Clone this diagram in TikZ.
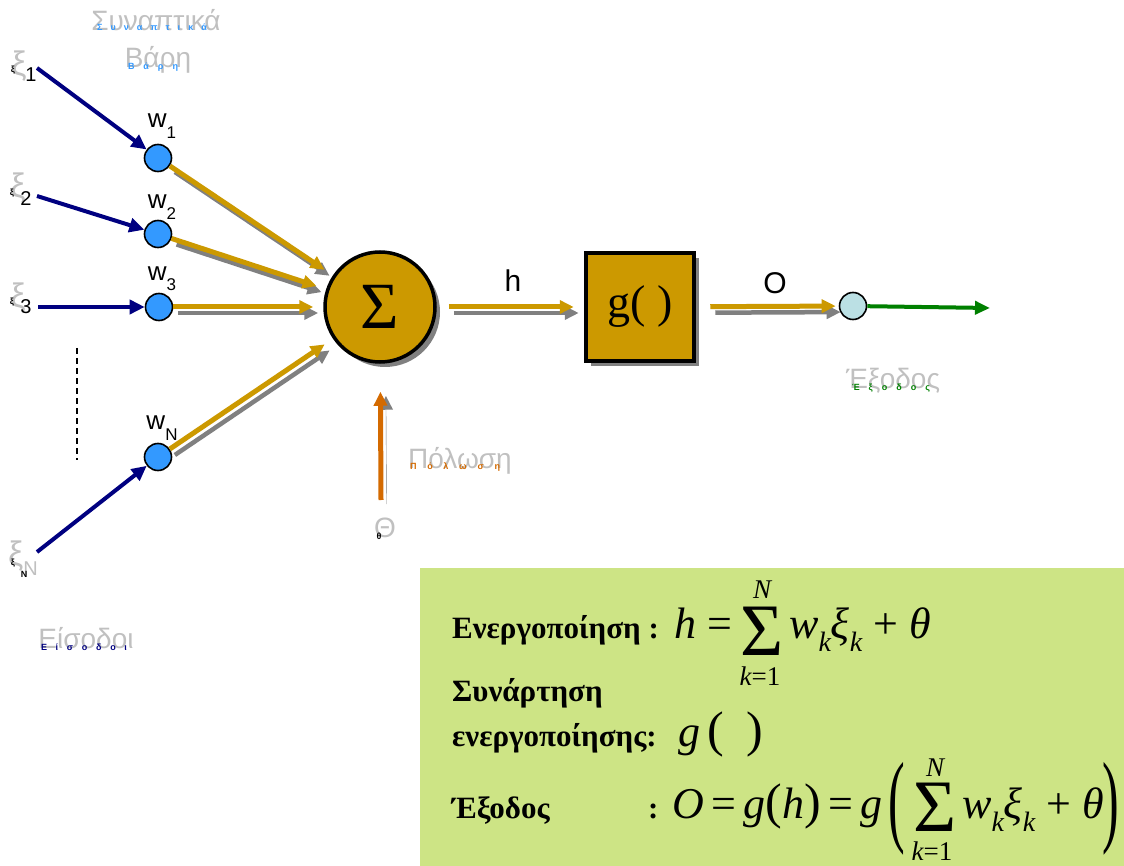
\documentclass[tikz,border=0pt]{standalone}
\usepackage{fontspec}
\setmainfont{Liberation Serif}
\setsansfont{Liberation Sans}
\usetikzlibrary{arrows.meta,shadows}

\definecolor{gold}{RGB}{204,153,0}
\definecolor{navyin}{RGB}{0,0,128}
\definecolor{wblue}{RGB}{51,153,255}
\definecolor{outblue}{RGB}{187,224,228}
\definecolor{outgreen}{RGB}{0,128,0}
\definecolor{biasorange}{RGB}{212,106,0}
\definecolor{ghostgray}{RGB}{192,192,192}
\definecolor{shadowgray}{RGB}{128,128,128}
\definecolor{boxgreen}{RGB}{205,228,133}

\newcommand{\fs}[1]{\fontsize{#1}{#1}\selectfont}
\newcommand{\sub}[1]{\raisebox{-0.3em}{\fs{28}#1}}

\tikzset{
  weight/.style={draw, circle, line width=1.6pt, fill=wblue, minimum size=27pt, inner sep=0pt},
  outnode/.style={draw, circle, line width=1.6pt, fill=outblue, minimum size=27pt, inner sep=0pt},
  sumnode/.style={draw, circle, line width=3.5pt, fill=gold, minimum size=110pt, inner sep=0pt,
    font=\fs{66}, drop shadow={shadow xshift=5pt, shadow yshift=-5pt, fill=shadowgray, opacity=1}},
  gbox/.style={draw, rectangle, line width=4.5pt, fill=gold, minimum size=108pt, inner sep=0pt,
    font=\fs{46}, drop shadow={shadow xshift=5pt, shadow yshift=-5pt, fill=shadowgray, opacity=1}},
  inarr/.style={navyin, line width=4pt, -{Triangle[length=15pt,width=14pt]}},
  goldarr/.style={gold, line width=5pt, -{Triangle[length=14pt,width=13pt]},
    preaction={draw=shadowgray, line width=4.5pt, -{Triangle[length=14pt,width=13pt]}, transform canvas={shift={(5pt,-6pt)}}}},
  biasarr/.style={biasorange, line width=5pt, -{Triangle[length=14pt,width=13pt]},
    preaction={draw=shadowgray, -{Triangle[length=14pt,width=13pt]}, transform canvas={shift={(5.5pt,-4pt)}}}},
  greenarr/.style={outgreen, line width=4pt, -{Triangle[length=15pt,width=13pt]}},
  ghost/.style={text=ghostgray, font=\sffamily\fs{28}, inner sep=0pt},
  ghostxi/.style={text=ghostgray, font=\sffamily\fs{34}, inner sep=0pt},
  tinytext/.style={font=\sffamily\bfseries\fs{9}, inner sep=0pt},
  wlab/.style={font=\sffamily\fs{26}, inner sep=0pt},
  plainlab/.style={font=\sffamily\fs{30}, inner sep=0pt},
  eqtext/.style={font=\bfseries\fs{31}, anchor=base west, inner sep=0pt},
  eqmath/.style={font=\itshape\fs{44}, anchor=base west, inner sep=0pt},
  sumsym/.style={font=\fs{74}, inner sep=0pt},
  limtext/.style={font=\itshape\fs{27}, inner sep=0pt},
  bigparen/.style={font=\fs{50}, inner sep=0pt, yscale=2.05, transform shape}
}

\begin{document}
\begin{tikzpicture}[x=1pt, y=-1pt]
\useasboundingbox (0,0) rectangle (1124,866);
\fill[boxgreen] (420,568) rectangle (1124,866);

% neuron
\node[weight] (w1) at (158,158) {};
\node[weight] (w2) at (158,234) {};
\node[weight] (w3) at (159,307) {};
\node[weight] (wN) at (158,457) {};
\node[sumnode] (sum) at (380,307) {Σ};
\node[gbox] (g) at (640,307) {g( )};
\node[outnode] (out) at (853,306) {};

\coordinate (x1) at (37,68);
\coordinate (x2) at (37,196);
\coordinate (x3) at (38,307);
\coordinate (xN) at (37,552);
\coordinate (th) at (381,500);
\coordinate (end) at (990,308);

\draw[inarr] (x1) -- (w1);
\draw[inarr] (x2) -- (w2);
\draw[inarr] (x3) -- (w3);
\draw[inarr] (xN) -- (wN);
\draw[line width=1.5pt, dash pattern=on 6pt off 4pt] (77,348) -- (77,460);

\draw[goldarr, shorten >=10pt] (w1) -- (sum);
\draw[goldarr, shorten >=10pt] (w2) -- (sum);
\draw[goldarr, shorten >=10pt] (w3) -- (sum);
\draw[goldarr, shorten >=10pt] (wN) -- (sum);
\draw[goldarr, shorten <=12pt, shorten >=10pt] (sum) -- (g);
\draw[goldarr, shorten <=14pt, shorten >=3pt] (g) -- (out);
\draw[greenarr] (out) -- (end);
\draw[biasarr, shorten >=28pt] (th) -- (sum);

% labels
\node[wlab] (lw1) at (162,126) {w\raisebox{-0.4em}{\fs{17}1}};
\node[wlab] (lw2) at (162,207) {w\raisebox{-0.4em}{\fs{17}2}};
\node[wlab] (lw3) at (162,279) {w\raisebox{-0.4em}{\fs{17}3}};
\node[wlab] (lwN) at (162,428) {w\raisebox{-0.4em}{\fs{17}N}};
\node[plainlab] (lh) at (513,281) {h};
\node[plainlab] (lo) at (775,283) {O};

\node[ghostxi] (gx1) at (19,66) {ξ};
\node[font=\sffamily\fs{20}, inner sep=0pt] (n1) at (31,75) {1};
\node[tinytext] (tx1) at (13,70) {ξ};
\node[ghostxi] (gx2) at (18,188) {ξ};
\node[font=\sffamily\fs{20}, inner sep=0pt] (n2) at (26,199) {2};
\node[tinytext] (tx2) at (12,193) {ξ};
\node[ghostxi] (gx3) at (18,298) {ξ};
\node[font=\sffamily\fs{20}, inner sep=0pt] (n3) at (26,307) {3};
\node[tinytext] (tx3) at (12,302) {ξ};
\node[ghostxi] (gxN) at (23,558) {ξ\raisebox{-0.3em}{\fs{20}N}};
\node[tinytext] (txN) at (13,563) {ξ};
\node[tinytext] (nN) at (24,574) {N};

\node[ghost] (syn) at (156,20) {Συναπτικά};
\node[tinytext, text=wblue] (tsyn) at (152,27) {\makebox[110pt][s]{Σ\hfil υ\hfil ν\hfil α\hfil π\hfil τ\hfil ι\hfil κ\hfil ά}};
\node[ghost] (bar) at (158,60) {Βάρη};
\node[tinytext, text=wblue] (tbar) at (153,67) {\makebox[50pt][s]{Β\hfil ά\hfil ρ\hfil η}};
\node[ghost] (eis) at (86,638) {Είσοδοι};
\node[tinytext, text=navyin] (teis) at (84,647) {\makebox[86pt][s]{Ε\hfil ί\hfil σ\hfil ο\hfil δ\hfil ο\hfil ι}};
\node[ghost] (pol) at (460,461) {Πόλωση};
\node[tinytext, text=biasorange] (tpol) at (455,467) {\makebox[90pt][s]{Π\hfil ό\hfil λ\hfil ω\hfil σ\hfil η}};
\node[ghost] (the) at (385,528) {Θ};
\node[tinytext] (tthe) at (379,536) {θ};
\node[ghost] (exo) at (893,381) {Έξοδος};
\node[tinytext, text=outgreen] (texo) at (891,388) {\makebox[78pt][s]{Έ\hfil ξ\hfil ο\hfil δ\hfil ο\hfil ς}};

% equations
\node[eqtext] (ea) at (452,638) {Ενεργοποίηση\hspace{8pt}:};
\node[eqmath] (ma1) at (674,638) {h \upshape=};
\node[sumsym] (sa) at (762,631) {Σ};
\node[limtext] (sat) at (762,590) {N};
\node[limtext] (sab) at (760,676) {k\upshape=1};
\node[eqmath] (ma2) at (789,638) {w\sub{k}ξ\sub{k} \upshape+ \itshape θ};

\node[eqtext] (eb) at (452,701) {Συνάρτηση};
\node[eqtext] (ec) at (452,746) {ενεργοποίησης:};
\node[eqmath] (mc) at (678,746) {g\,\upshape{\fs{50}(}\hspace{22pt}{\fs{50})}};

\node[eqtext] (ed) at (452,818) {Έξοδος};
\node[eqtext] (ee) at (648,818) {:};
\node[eqmath] (md1) at (672,818) {O\,\upshape=\,\itshape g\upshape{\fs{50}(}\itshape h\upshape{\fs{50})}\,=\,\itshape g};
\node[bigparen] (lp) at (897,809) {(};
\node[sumsym] (sd) at (935,807) {Σ};
\node[limtext] (sdt) at (935,768) {N};
\node[limtext] (sdb) at (932,851) {k\upshape=1};
\node[eqmath] (md2) at (962,818) {w\sub{k}ξ\sub{k} \upshape+ \itshape θ};
\node[bigparen] (rp) at (1111,809) {)};
\end{tikzpicture}
\end{document}
